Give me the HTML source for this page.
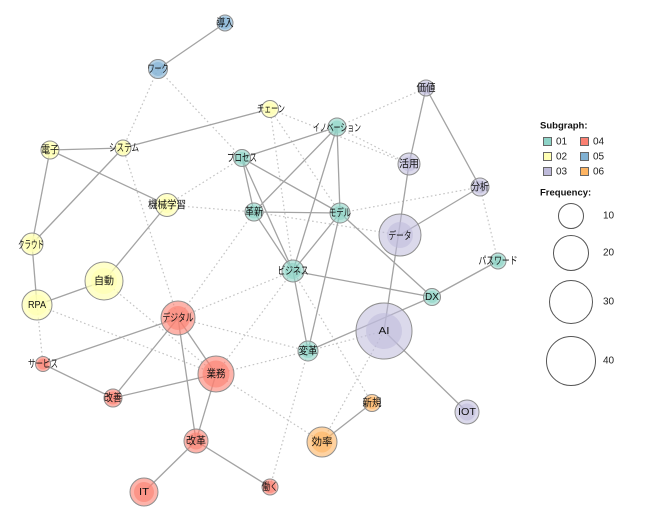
<!DOCTYPE html>
<html><head><meta charset="utf-8">
<style>
html,body{margin:0;padding:0;background:#fff;width:650px;height:515px;overflow:hidden}
svg{display:block}
.s{stroke:#a3a3a3;stroke-width:1.3;fill:none}
.d{stroke:#c4c4c4;stroke-width:1.2;fill:none;stroke-dasharray:1.6 2.6}
.lb{font-family:"Liberation Sans","Noto Sans CJK JP",sans-serif;font-size:10.5px;fill:#111;text-anchor:middle;dominant-baseline:central}
.lg{font-family:"Liberation Sans",sans-serif;font-size:10px;fill:#222;dominant-baseline:central}
.lh{font-family:"Liberation Sans",sans-serif;font-size:9.5px;font-weight:bold;fill:#111;dominant-baseline:central}
</style></head><body>
<svg width="650" height="515" viewBox="0 0 650 515" xmlns="http://www.w3.org/2000/svg">
<g class="d">
<line x1="158" y1="69" x2="123" y2="148"/>
<line x1="158" y1="69" x2="242" y2="158"/>
<line x1="270" y1="109" x2="409" y2="164"/>
<line x1="337" y1="127" x2="426" y2="88"/>
<line x1="337" y1="127" x2="409" y2="164"/>
<line x1="270" y1="109" x2="293" y2="271"/>
<line x1="270" y1="109" x2="340" y2="213"/>
<line x1="340" y1="213" x2="480" y2="187"/>
<line x1="254" y1="212" x2="400" y2="235"/>
<line x1="167" y1="205" x2="254" y2="212"/>
<line x1="167" y1="205" x2="242" y2="158"/>
<line x1="480" y1="187" x2="498" y2="261"/>
<line x1="123" y1="148" x2="178" y2="318"/>
<line x1="254" y1="212" x2="178" y2="318"/>
<line x1="293" y1="271" x2="178" y2="318"/>
<line x1="178" y1="318" x2="308" y2="351"/>
<line x1="104" y1="281" x2="216" y2="374"/>
<line x1="37" y1="305" x2="216" y2="374"/>
<line x1="37" y1="305" x2="43" y2="364"/>
<line x1="216" y1="374" x2="308" y2="351"/>
<line x1="216" y1="374" x2="322" y2="442"/>
<line x1="293" y1="271" x2="216" y2="374"/>
<line x1="293" y1="271" x2="372" y2="403"/>
<line x1="308" y1="351" x2="270" y2="487"/>
<line x1="384" y1="331" x2="322" y2="442"/>
<line x1="308" y1="351" x2="384" y2="331"/>
</g>
<g class="s">
<line x1="225" y1="23" x2="158" y2="69"/>
<line x1="123" y1="148" x2="270" y2="109"/>
<line x1="50" y1="150" x2="123" y2="148"/>
<line x1="50" y1="150" x2="167" y2="205"/>
<line x1="50" y1="150" x2="32" y2="244"/>
<line x1="123" y1="148" x2="32" y2="244"/>
<line x1="32" y1="244" x2="37" y2="305"/>
<line x1="167" y1="205" x2="104" y2="281"/>
<line x1="104" y1="281" x2="37" y2="305"/>
<line x1="242" y1="158" x2="337" y2="127"/>
<line x1="242" y1="158" x2="254" y2="212"/>
<line x1="242" y1="158" x2="293" y2="271"/>
<line x1="242" y1="158" x2="340" y2="213"/>
<line x1="337" y1="127" x2="254" y2="212"/>
<line x1="337" y1="127" x2="340" y2="213"/>
<line x1="337" y1="127" x2="293" y2="271"/>
<line x1="254" y1="212" x2="340" y2="213"/>
<line x1="254" y1="212" x2="293" y2="271"/>
<line x1="340" y1="213" x2="293" y2="271"/>
<line x1="340" y1="213" x2="308" y2="351"/>
<line x1="340" y1="213" x2="432" y2="297"/>
<line x1="293" y1="271" x2="432" y2="297"/>
<line x1="293" y1="271" x2="308" y2="351"/>
<line x1="308" y1="351" x2="432" y2="297"/>
<line x1="426" y1="88" x2="409" y2="164"/>
<line x1="426" y1="88" x2="480" y2="187"/>
<line x1="409" y1="164" x2="384" y2="331"/>
<line x1="480" y1="187" x2="400" y2="235"/>
<line x1="498" y1="261" x2="432" y2="297"/>
<line x1="384" y1="331" x2="467" y2="412"/>
<line x1="372" y1="403" x2="322" y2="442"/>
<line x1="178" y1="318" x2="43" y2="364"/>
<line x1="178" y1="318" x2="113" y2="398"/>
<line x1="178" y1="318" x2="216" y2="374"/>
<line x1="178" y1="318" x2="196" y2="441"/>
<line x1="43" y1="364" x2="113" y2="398"/>
<line x1="113" y1="398" x2="216" y2="374"/>
<line x1="216" y1="374" x2="196" y2="441"/>
<line x1="196" y1="441" x2="144" y2="492"/>
<line x1="196" y1="441" x2="270" y2="487"/>
</g>
<g stroke="#8f8f8f" stroke-width="1">
<circle cx="225" cy="23" r="8" fill="#80b1d3" fill-opacity=".6"/><circle cx="225" cy="23" r="6" fill="#80b1d3" fill-opacity=".6" stroke="none"/>
<circle cx="158" cy="69" r="9.5" fill="#80b1d3" fill-opacity=".6"/><circle cx="158" cy="69" r="7" fill="#80b1d3" fill-opacity=".6" stroke="none"/>
<circle cx="270" cy="109" r="8.5" fill="#ffffb3" fill-opacity=".7"/><circle cx="270" cy="109" r="6" fill="#ffffb3" fill-opacity=".7" stroke="none"/>
<circle cx="50" cy="150" r="9" fill="#ffffb3" fill-opacity=".7"/><circle cx="50" cy="150" r="6.5" fill="#ffffb3" fill-opacity=".7" stroke="none"/>
<circle cx="123" cy="148" r="8" fill="#ffffb3" fill-opacity=".7"/><circle cx="123" cy="148" r="6" fill="#ffffb3" fill-opacity=".7" stroke="none"/>
<circle cx="167" cy="205" r="11.5" fill="#ffffb3" fill-opacity=".7"/><circle cx="167" cy="205" r="8" fill="#ffffb3" fill-opacity=".7" stroke="none"/>
<circle cx="32" cy="244" r="11" fill="#ffffb3" fill-opacity=".7"/><circle cx="32" cy="244" r="8" fill="#ffffb3" fill-opacity=".7" stroke="none"/>
<circle cx="104" cy="281" r="19" fill="#ffffb3" fill-opacity=".7"/><circle cx="104" cy="281" r="13" fill="#ffffb3" fill-opacity=".7" stroke="none"/>
<circle cx="37" cy="305" r="15" fill="#ffffb3" fill-opacity=".7"/><circle cx="37" cy="305" r="10.5" fill="#ffffb3" fill-opacity=".7" stroke="none"/>
<circle cx="337" cy="127" r="9" fill="#8dd3c7" fill-opacity=".6"/><circle cx="337" cy="127" r="6.5" fill="#8dd3c7" fill-opacity=".6" stroke="none"/>
<circle cx="242" cy="158" r="8.5" fill="#8dd3c7" fill-opacity=".6"/><circle cx="242" cy="158" r="6" fill="#8dd3c7" fill-opacity=".6" stroke="none"/>
<circle cx="254" cy="212" r="9" fill="#8dd3c7" fill-opacity=".6"/><circle cx="254" cy="212" r="6.5" fill="#8dd3c7" fill-opacity=".6" stroke="none"/>
<circle cx="340" cy="213" r="10" fill="#8dd3c7" fill-opacity=".6"/><circle cx="340" cy="213" r="7" fill="#8dd3c7" fill-opacity=".6" stroke="none"/>
<circle cx="293" cy="271" r="11" fill="#8dd3c7" fill-opacity=".6"/><circle cx="293" cy="271" r="8" fill="#8dd3c7" fill-opacity=".6" stroke="none"/>
<circle cx="498" cy="261" r="8" fill="#8dd3c7" fill-opacity=".6"/><circle cx="498" cy="261" r="6" fill="#8dd3c7" fill-opacity=".6" stroke="none"/>
<circle cx="432" cy="297" r="8.5" fill="#8dd3c7" fill-opacity=".6"/><circle cx="432" cy="297" r="6" fill="#8dd3c7" fill-opacity=".6" stroke="none"/>
<circle cx="308" cy="351" r="10" fill="#8dd3c7" fill-opacity=".6"/><circle cx="308" cy="351" r="7" fill="#8dd3c7" fill-opacity=".6" stroke="none"/>
<circle cx="426" cy="88" r="8" fill="#bebada" fill-opacity=".55"/><circle cx="426" cy="88" r="6" fill="#bebada" fill-opacity=".55" stroke="none"/>
<circle cx="409" cy="164" r="11" fill="#bebada" fill-opacity=".55"/><circle cx="409" cy="164" r="7.5" fill="#bebada" fill-opacity=".55" stroke="none"/>
<circle cx="480" cy="187" r="9" fill="#bebada" fill-opacity=".55"/><circle cx="480" cy="187" r="6.5" fill="#bebada" fill-opacity=".55" stroke="none"/>
<circle cx="400" cy="235" r="21" fill="#bebada" fill-opacity=".55"/><circle cx="400" cy="235" r="13" fill="#bebada" fill-opacity=".55" stroke="none"/>
<circle cx="384" cy="331" r="28" fill="#bebada" fill-opacity=".55"/><circle cx="384" cy="331" r="18" fill="#bebada" fill-opacity=".55" stroke="none"/>
<circle cx="467" cy="412" r="12" fill="#bebada" fill-opacity=".55"/><circle cx="467" cy="412" r="8.5" fill="#bebada" fill-opacity=".55" stroke="none"/>
<circle cx="178" cy="318" r="17" fill="#fb8072" fill-opacity=".6"/><circle cx="178" cy="318" r="12" fill="#fb8072" fill-opacity=".6" stroke="none"/>
<circle cx="43" cy="364" r="7.5" fill="#fb8072" fill-opacity=".6"/><circle cx="43" cy="364" r="5.5" fill="#fb8072" fill-opacity=".6" stroke="none"/>
<circle cx="216" cy="374" r="18" fill="#fb8072" fill-opacity=".6"/><circle cx="216" cy="374" r="13.5" fill="#fb8072" fill-opacity=".6" stroke="none"/>
<circle cx="113" cy="398" r="9" fill="#fb8072" fill-opacity=".6"/><circle cx="113" cy="398" r="6.5" fill="#fb8072" fill-opacity=".6" stroke="none"/>
<circle cx="196" cy="441" r="12" fill="#fb8072" fill-opacity=".6"/><circle cx="196" cy="441" r="8.5" fill="#fb8072" fill-opacity=".6" stroke="none"/>
<circle cx="144" cy="492" r="14" fill="#fb8072" fill-opacity=".6"/><circle cx="144" cy="492" r="10" fill="#fb8072" fill-opacity=".6" stroke="none"/>
<circle cx="270" cy="487" r="8" fill="#fb8072" fill-opacity=".6"/><circle cx="270" cy="487" r="6" fill="#fb8072" fill-opacity=".6" stroke="none"/>
<circle cx="372" cy="403" r="8.5" fill="#fdb462" fill-opacity=".6"/><circle cx="372" cy="403" r="6" fill="#fdb462" fill-opacity=".6" stroke="none"/>
<circle cx="322" cy="442" r="15" fill="#fdb462" fill-opacity=".6"/><circle cx="322" cy="442" r="10.5" fill="#fdb462" fill-opacity=".6" stroke="none"/>
</g>
<g class="lb">
<text x="225" y="23" textLength="17" lengthAdjust="spacingAndGlyphs">導入</text>
<text x="158" y="69" textLength="21" lengthAdjust="spacingAndGlyphs">ワーク</text>
<text x="271" y="109" textLength="28" lengthAdjust="spacingAndGlyphs">チェーン</text>
<text x="337" y="128" textLength="48" lengthAdjust="spacingAndGlyphs">イノベーション</text>
<text x="426" y="88" textLength="19" lengthAdjust="spacingAndGlyphs">価値</text>
<text x="50" y="150" textLength="18" lengthAdjust="spacingAndGlyphs">電子</text>
<text x="124" y="148" textLength="30" lengthAdjust="spacingAndGlyphs">システム</text>
<text x="242" y="158" textLength="30" lengthAdjust="spacingAndGlyphs">プロセス</text>
<text x="409" y="164" textLength="20" lengthAdjust="spacingAndGlyphs">活用</text>
<text x="480" y="187" textLength="18" lengthAdjust="spacingAndGlyphs">分析</text>
<text x="167" y="205" textLength="38" lengthAdjust="spacingAndGlyphs">機械学習</text>
<text x="254" y="212" textLength="18" lengthAdjust="spacingAndGlyphs">革新</text>
<text x="340" y="213" textLength="22" lengthAdjust="spacingAndGlyphs">モデル</text>
<text x="400" y="236" textLength="23" lengthAdjust="spacingAndGlyphs">データ</text>
<text x="31" y="245" textLength="26" lengthAdjust="spacingAndGlyphs">クラウド</text>
<text x="293" y="271" textLength="31" lengthAdjust="spacingAndGlyphs">ビジネス</text>
<text x="498" y="261" textLength="39" lengthAdjust="spacingAndGlyphs">パスワード</text>
<text x="104" y="281" textLength="20" lengthAdjust="spacingAndGlyphs">自動</text>
<text x="37" y="305" textLength="18" lengthAdjust="spacingAndGlyphs">RPA</text>
<text x="432" y="297" textLength="14" lengthAdjust="spacingAndGlyphs">DX</text>
<text x="178" y="318" textLength="31" lengthAdjust="spacingAndGlyphs">デジタル</text>
<text x="384" y="331" textLength="11" lengthAdjust="spacingAndGlyphs">AI</text>
<text x="308" y="351" textLength="19" lengthAdjust="spacingAndGlyphs">変革</text>
<text x="43" y="364" textLength="30" lengthAdjust="spacingAndGlyphs">サービス</text>
<text x="216" y="374" textLength="19" lengthAdjust="spacingAndGlyphs">業務</text>
<text x="113" y="398" textLength="18" lengthAdjust="spacingAndGlyphs">改善</text>
<text x="372" y="403" textLength="19" lengthAdjust="spacingAndGlyphs">新規</text>
<text x="467" y="412" textLength="18" lengthAdjust="spacingAndGlyphs">IOT</text>
<text x="196" y="441" textLength="20" lengthAdjust="spacingAndGlyphs">改革</text>
<text x="322" y="442" textLength="21" lengthAdjust="spacingAndGlyphs">効率</text>
<text x="144" y="492" textLength="10" lengthAdjust="spacingAndGlyphs">IT</text>
<text x="270" y="487" textLength="16" lengthAdjust="spacingAndGlyphs">働く</text>
</g>
<text class="lh" x="540" y="126">Subgraph:</text>
<g stroke="#666" stroke-width="1">
<rect x="543.5" y="137.5" width="8" height="8" fill="#8dd3c7"/>
<rect x="580.5" y="137.5" width="8" height="8" fill="#fb8072"/>
<rect x="543.5" y="152.5" width="8" height="8" fill="#ffffb3"/>
<rect x="580.5" y="152.5" width="8" height="8" fill="#80b1d3"/>
<rect x="543.5" y="167.5" width="8" height="8" fill="#bebada"/>
<rect x="580.5" y="167.5" width="8" height="8" fill="#fdb462"/>
</g>
<text class="lg" x="556" y="142">01</text>
<text class="lg" x="593" y="142">04</text>
<text class="lg" x="556" y="157">02</text>
<text class="lg" x="593" y="157">05</text>
<text class="lg" x="556" y="172">03</text>
<text class="lg" x="593" y="172">06</text>
<text class="lh" x="540" y="193">Frequency:</text>
<g fill="none" stroke="#555" stroke-width="1">
<circle cx="571" cy="216" r="12.5"/>
<circle cx="571" cy="253" r="17.5"/>
<circle cx="571" cy="302" r="21.5"/>
<circle cx="571" cy="361" r="24.5"/>
</g>
<text class="lg" x="603" y="216">10</text>
<text class="lg" x="603" y="253">20</text>
<text class="lg" x="603" y="302">30</text>
<text class="lg" x="603" y="361">40</text>
</svg>
</body></html>
